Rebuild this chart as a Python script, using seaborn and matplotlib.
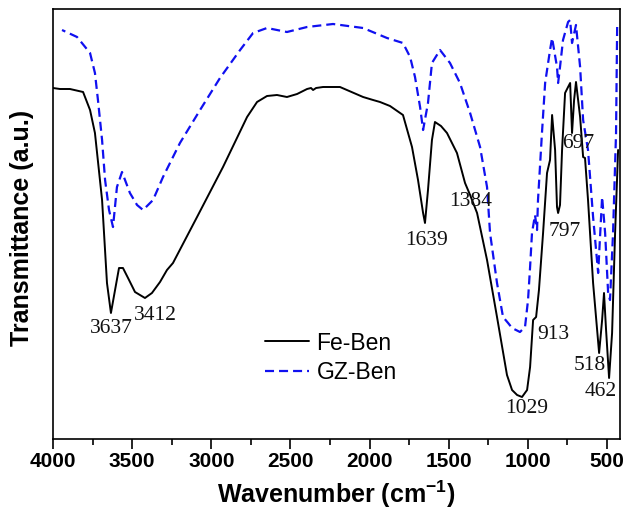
import matplotlib
matplotlib.use("Agg")
import matplotlib.pyplot as plt
import seaborn as sns
import pandas as pd
from matplotlib.ticker import MultipleLocator

# ---- data ----
fe_wn = [4000, 3956, 3893, 3810, 3766, 3735, 3690, 3659, 3634, 3608, 3583, 3558, 3526,
         3482, 3419, 3375, 3324, 3280, 3242, 3166, 3090, 3008, 2926, 2850, 2774, 2711,
         2648, 2585, 2522, 2458, 2395, 2370, 2357, 2338, 2294, 2187, 2041, 1978, 1934,
         1871, 1789, 1732, 1694, 1662, 1650, 1631, 1606, 1587, 1549, 1511, 1448, 1397,
         1365, 1321, 1258, 1195, 1132, 1100, 1068, 1037, 1005, 986, 967, 948, 930, 904,
         879, 860, 847, 828, 816, 809, 797, 784, 765, 746, 733, 721, 708, 696, 670, 651,
         639, 620, 588, 550, 531, 519, 506, 487, 468, 449, 430]
fe_t = [351, 350, 350, 347, 329, 306, 239, 156, 126, 149, 171, 171, 161,
        147, 141, 146, 157, 169, 176, 199, 222, 247, 272, 297, 322, 337,
        343, 344, 342, 345, 350, 351, 349, 351, 352, 352, 342, 339, 337,
        333, 324, 292, 259, 226, 216, 249, 299, 317, 313, 306, 286, 256,
        244, 226, 179, 122, 64, 49, 44, 42, 49, 72, 119, 122, 149, 206,
        266, 279, 324, 289, 232, 226, 234, 289, 346, 352, 356, 306, 339, 357, 322, 282,
        281, 239, 156, 86, 119, 146, 109, 61, 106, 206, 289]

gz_wn = [3943, 3848, 3766, 3735, 3716, 3690, 3671, 3646, 3621, 3596, 3564, 3514, 3469,
         3431, 3368, 3305, 3198, 3071, 2945, 2818, 2736, 2648, 2522, 2395, 2231, 2041,
         1890, 1789, 1744, 1713, 1681, 1662, 1631, 1606, 1555, 1492, 1429, 1365, 1302,
         1258, 1239, 1195, 1157, 1125, 1100, 1050, 1018, 999, 986, 974, 955, 942, 936,
         911, 891, 860, 847, 816, 809, 797, 778, 746, 733, 721, 696, 670, 651, 620, 588,
         556, 531, 512, 493, 481, 462, 443, 436]
gz_t = [409, 402, 386, 366, 339, 299, 259, 229, 212, 252, 267, 246, 234,
        229, 239, 262, 296, 329, 361, 389, 406, 411, 407, 412, 415, 411,
        401, 396, 382, 362, 332, 309, 336, 376, 389, 376, 356, 326, 292,
        252, 206, 156, 122, 116, 111, 107, 112, 139, 172, 206, 224, 209, 239,
        306, 356, 389, 401, 372, 356, 372, 399, 417, 419, 396, 414, 372, 319, 289, 222,
        166, 242, 206, 146, 139, 206, 306, 412]

series_names = ["Fe-Ben", "GZ-Ben"]
peak_labels = ["3637", "3412", "1639", "1384", "1029", "913", "797", "697", "518", "462"]
x_ticks = [4000, 3500, 3000, 2500, 2000, 1500, 1000, 500]

# label anchor positions (wavenumber, transmittance) for the peak annotations
label_pos = [(3634, 111), (3356, 124), (1637, 199), (1359, 238), (1005, 31),
             (841, 105), (765, 208), (683, 296), (607, 74), (538, 48)]

sns.set_theme(style="ticks")
plt.rcParams["font.family"] = ["Liberation Sans", "DejaVu Sans"]
plt.rcParams["lines.scale_dashes"] = False
plt.rcParams["text.color"] = "black"
plt.rcParams["axes.labelcolor"] = "black"
plt.rcParams["xtick.color"] = "black"
plt.rcParams["ytick.color"] = "black"

fe_df = pd.DataFrame({"wn": fe_wn, "T": fe_t})
gz_df = pd.DataFrame({"wn": gz_wn, "T": gz_t})

fig = plt.figure(figsize=(6.24, 5.11), dpi=100)
ax = fig.add_axes([53 / 624, 1 - 439 / 511, 567 / 624, 430 / 511])

sns.lineplot(data=fe_df, x="wn", y="T", ax=ax, color="black", linewidth=1.4,
             label=series_names[0])
sns.lineplot(data=gz_df, x="wn", y="T", ax=ax, color="#1010f0", linewidth=1.6,
             linestyle="--", label=series_names[1])
ax.lines[1].set_dashes([6.5, 3.6])

ax.set_xlim(4000, 418)
ax.set_ylim(0, 430)
ax.set_xticks(x_ticks)
ax.xaxis.set_minor_locator(MultipleLocator(250))
ax.set_yticks([])

for s in ax.spines.values():
    s.set_linewidth(1.2)
    s.set_color("black")

ax.tick_params(axis="x", which="major", direction="out", length=7, width=1.2,
               pad=2, labelsize=15, colors="black")
ax.tick_params(axis="x", which="minor", direction="out", length=4, width=1.2,
               colors="black")
for lbl in ax.get_xticklabels():
    lbl.set_fontweight("bold")

ax.set_xlabel("Wavenumber (cm$^{\\mathregular{-1}}$)", fontsize=18, fontweight="bold",
              labelpad=6, color="black")
ax.set_ylabel("Transmittance (a.u.)", fontsize=18, fontweight="bold", color="black")
ax.yaxis.set_label_coords(-0.033, 0.49)

for txt, (xw, yt) in zip(peak_labels, label_pos):
    ax.text(xw, yt, txt, fontsize=15.5, family=["Liberation Serif", "DejaVu Serif"],
            ha="center", va="center", color="#111111")

leg = ax.legend(loc="upper left", bbox_to_anchor=(0.374, 0.25), frameon=False,
                fontsize=16.5, handlelength=1.9, handletextpad=0.35, labelspacing=0.3,
                borderaxespad=0, borderpad=0)
for t in leg.get_texts():
    t.set_color("black")

fig.savefig("out.png", dpi=100)
